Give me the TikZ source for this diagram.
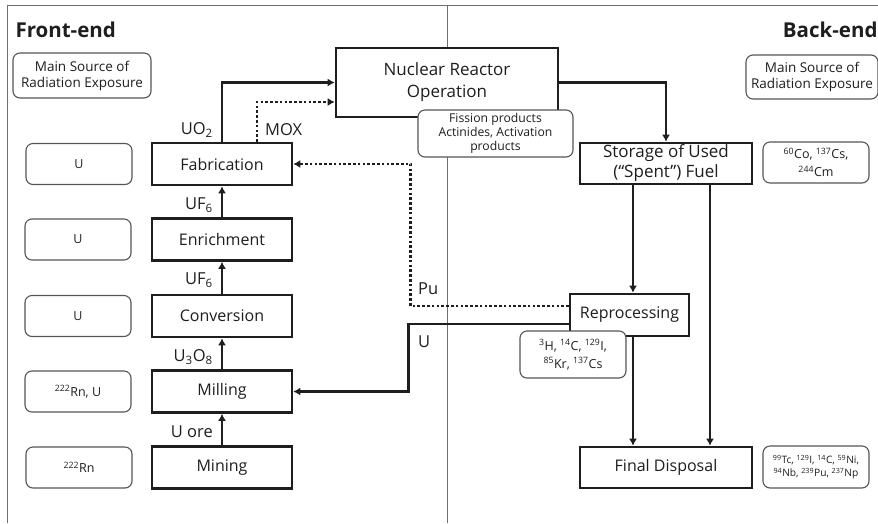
\documentclass[tikz,border=0pt]{standalone}
\usepackage{fontspec}
\setmainfont{Open Sans}
\usepackage{xcolor}
\usetikzlibrary{arrows.meta}
\definecolor{framegray}{HTML}{6E6E6E}
\definecolor{boxgray}{HTML}{555555}
\definecolor{inkblack}{HTML}{1E1E1E}

\begin{document}
\begin{tikzpicture}[x=1pt, y=-1pt,
  stage/.style={rectangle, draw=inkblack, line width=2.6pt, fill=white, minimum width=140pt, minimum height=42pt, inner sep=0pt, align=center, text=inkblack, font=\fontsize{16}{19}\selectfont},
  source/.style={rectangle, rounded corners=7pt, draw=boxgray, line width=1.1pt, fill=white, minimum width=106pt, minimum height=41pt, inner sep=0pt, align=center, text=inkblack, font=\fontsize{12.5}{18}\selectfont},
  flow/.style={draw=inkblack, line width=2.6pt, -{Latex[length=7pt,width=8pt]}},
  recycle/.style={flow, dash pattern=on 2.6pt off 2.2pt},
  stream/.style={font=\fontsize{16.5}{19}\selectfont, text=inkblack, inner sep=1pt}]
\useasboundingbox (0,0) rectangle (878,523);
% frame
\draw[framegray, line width=1pt] (7,523) -- (7,5) -- (880,5);
\draw[framegray, line width=1pt] (447,5) -- (447,523);
\node[anchor=west, font=\bfseries\fontsize{20.5}{24}\selectfont, text=inkblack] (front) at (12,30) {Front-end};
\node[anchor=east, font=\bfseries\fontsize{20.5}{24}\selectfont, text=inkblack] (back) at (881,30) {Back-end};
% front-end chain
\node[stage] (fab) at (222,164) {Fabrication};
\node[stage] (enr) at (222,239.5) {Enrichment};
\node[stage] (conv) at (222,316) {Conversion};
\node[stage] (mill) at (222,391.5) {Milling};
\node[stage] (mine) at (222,467.5) {Mining};
% exposure sources, front-end
\node[source, minimum width=138pt, minimum height=45pt, font=\fontsize{13.5}{16}\selectfont] (srcfront) at (82,75.5) {Main Source of\\Radiation Exposure};
\node[source] (sfab) at (79,164) {U};
\node[source] (senr) at (78,239.5) {U};
\node[source] (sconv) at (78,316) {U};
\node[source] (smill) at (78,391.5) {\textsuperscript{222}Rn, U};
\node[source] (smine) at (79,467.5) {\textsuperscript{222}Rn};
% reactor and back-end
\node[stage, minimum width=222pt, minimum height=69pt, font=\fontsize{17}{22}\selectfont] (reactor) at (447,82.5) {Nuclear Reactor\\Operation};
\node[source, minimum width=155pt, minimum height=47pt, font=\fontsize{12.2}{14}\selectfont] (fission) at (495.5,133.5) {Fission products\\Actinides, Activation\\products};
\node[stage, minimum width=172pt, minimum height=41pt, font=\fontsize{17}{20}\selectfont] (store) at (666,163.5) {Storage of Used\\(“Spent”) Fuel};
\node[stage, minimum width=119pt] (repro) at (629.5,315) {Reprocessing};
\node[source, minimum height=47pt] (srepro) at (573,354.5) {\textsuperscript{3}H, \textsuperscript{14}C, \textsuperscript{129}I,\\\textsuperscript{85}Kr, \textsuperscript{137}Cs};
\node[stage, minimum width=172pt, minimum height=41pt] (final) at (666,467.5) {Final Disposal};
% exposure sources, back-end
\node[source, minimum width=132pt, minimum height=44pt, font=\fontsize{13.5}{16}\selectfont] (srcback) at (812,77) {Main Source of\\Radiation Exposure};
\node[source] (sstore) at (816,162.5) {\textsuperscript{60}Co, \textsuperscript{137}Cs,\\\textsuperscript{244}Cm};
\node[source, minimum height=42pt, font=\fontsize{10.2}{13}\selectfont] (sfinal) at (816,467) {\textsuperscript{99}Tc, \textsuperscript{129}I, \textsuperscript{14}C, \textsuperscript{59}Ni,\\\textsuperscript{94}Nb, \textsuperscript{239}Pu, \textsuperscript{237}Np};
% material streams
\node[stream, anchor=east] (uo2) at (214,130) {UO\textsubscript{2}};
\node[stream, anchor=west] (mox) at (264,130) {MOX};
\node[stream, anchor=east] (uf6a) at (214,205) {UF\textsubscript{6}};
\node[stream, anchor=east] (uf6b) at (214,280) {UF\textsubscript{6}};
\node[stream, anchor=east] (u3o8) at (214,357) {U\textsubscript{3}O\textsubscript{8}};
\node[stream, anchor=east] (uore) at (214,432) {U ore};
\node[stream, anchor=west] (pu) at (417,289) {Pu};
\node[stream, anchor=west] (ured) at (417,342) {U};
% arrows
\draw[flow] (mine) -- (mill);
\draw[flow] (mill) -- (conv);
\draw[flow] (conv) -- (enr);
\draw[flow] (enr) -- (fab);
\draw[flow] (fab.north) |- (reactor.west);
\draw[recycle] ([xshift=35pt]fab.north) |- ([yshift=-19.5pt]reactor.west);
\draw[flow] (reactor.east) -| (store.north);
\draw[flow] ([xshift=3.5pt]repro.north |- store.south) -- ([xshift=3.5pt]repro.north);
\draw[flow] ([xshift=44pt]store.south) -- ([xshift=44pt]final.north);
\draw[flow] ([xshift=3.5pt]repro.south) -- ([xshift=3.5pt]repro.south |- final.north);
\draw[recycle] ([yshift=9pt]repro.west) -- ++(-158pt,0) |- (fab.east);
\draw[flow] ([yshift=-9pt]repro.west) -- ++(-160pt,0) |- (mill.east);
\end{tikzpicture}
\end{document}
